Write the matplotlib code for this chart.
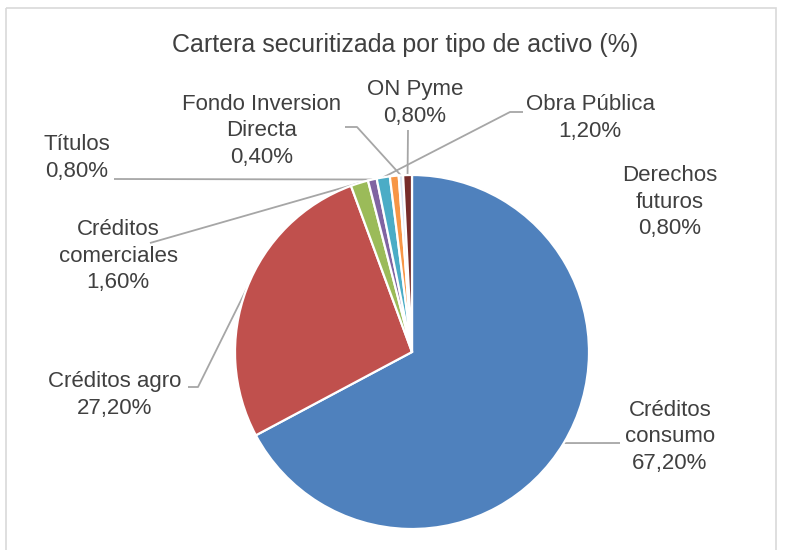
import numpy as np
import matplotlib.pyplot as plt
from matplotlib.patches import Rectangle

W, H = 786, 550

# data, in the order excel draws them clockwise from 12 o'clock
labels = ['Créditos\nconsumo', 'Créditos agro', 'Créditos\ncomerciales', 'Títulos',
          'Obra Pública', 'Derechos\nfuturos', 'Fondo Inversion\nDirecta', 'ON Pyme']
values = [67.2, 27.2, 1.6, 0.8, 1.2, 0.8, 0.4, 0.8]
colors = ['#4F81BD', '#C0504D', '#9BBB59', '#8064A2', '#4BACC6', '#F79646', '#DCE6F2', '#772C2A']

# label block centres (pixels from top-left) and leader elbows
label_pos = [(670, 437), (115, 395), (118, 256), (77, 158),
             (590, 118), (670, 202), (262, 131), (415, 103)]
leaders = [[(620, 443)], [(188, 387), (198, 387)], [(150, 243)], [(114, 179)],
           [(523, 112), (510, 112)], None, [(345, 127), (357, 127)], [(408, 130)]]

cx, cy, r = 412, 352, 177

fig = plt.figure(figsize=(W / 100, H / 100), dpi=100)
ax = fig.add_axes([0, 0, 1, 1])
ax.set_xlim(0, W)
ax.set_ylim(H, 0)
ax.axis('off')

ax.add_patch(Rectangle((6, 8), 770, 560, fill=False, edgecolor='#D9D9D9', lw=1.2))

# pie drawn on a y-up axes overlay so the wedges go clockwise
ax2 = fig.add_axes([0, 0, 1, 1])
wedges, _ = ax2.pie(values, colors=colors, startangle=90, counterclock=False,
                    center=(cx, H - cy), radius=r, frame=True,
                    wedgeprops=dict(edgecolor='white', linewidth=1.6))
ax2.set_xlim(0, W)
ax2.set_ylim(0, H)
ax2.set_aspect('auto')
ax2.axis('off')

lab_color = '#404040'
for i, (lab, v) in enumerate(zip(labels, values)):
    x, y = label_pos[i]
    ax.text(x, y, lab + '\n' + f'{v:.2f}%'.replace('.', ','), ha='center', va='center',
            fontsize=16, color=lab_color, linespacing=1.35, family='Liberation Sans')
    if leaders[i] is None:
        continue
    w = wedges[i]
    mid = np.deg2rad((w.theta1 + w.theta2) / 2)
    ex, ey = cx + r * np.cos(mid), cy - r * np.sin(mid)
    pts = leaders[i] + [(ex, ey)]
    ax.plot([p[0] for p in pts], [p[1] for p in pts], color='#A6A6A6', lw=1.3,
            solid_capstyle='butt')

ax.text(405, 45, 'Cartera securitizada por tipo de activo (%)', ha='center', va='center',
        fontsize=18, color='#404040', family='Liberation Sans')

fig.savefig('out.png', dpi=100)
